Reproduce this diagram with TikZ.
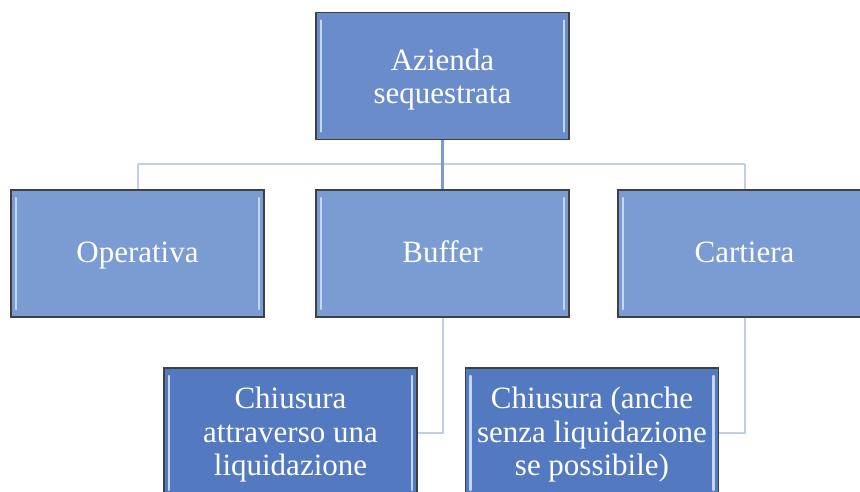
\documentclass[tikz,border=0pt]{standalone}
\usepackage{fontspec}
\setmainfont{LiberationSerif}[Extension=.ttf, UprightFont=*-Regular, BoldFont=*-Bold]
\definecolor{boxtop}{HTML}{6A8CCB}
\definecolor{boxmid}{HTML}{7A9CD3}
\definecolor{boxlow}{HTML}{5379C1}
\definecolor{linklight}{HTML}{C0CEEA}
\definecolor{bevel}{HTML}{C4D8F4}
% text block, first baseline raised by #1 above the box centre
\newcommand{\boxlines}[2]{\raisebox{#1}[0pt][0pt]{\begin{tabular}[t]{@{}c@{}}#2\end{tabular}}}
\tikzstyle{unit}=[draw=black!75, line width=1.2pt, text=white, minimum width=253pt, minimum height=127pt, inner sep=0pt, font=\fontsize{31}{33.5}\selectfont,
  path picture={
    \draw[bevel, line width=2.5pt, line cap=round] ([xshift=5pt,yshift=-8pt]path picture bounding box.north west) -- ([xshift=5pt,yshift=8pt]path picture bounding box.south west);
    \draw[bevel, line width=2.5pt, line cap=round] ([xshift=-5pt,yshift=-8pt]path picture bounding box.north east) -- ([xshift=-5pt,yshift=8pt]path picture bounding box.south east);
  }]
\tikzstyle{link}=[draw=linklight, line width=2pt]

\begin{document}
\begin{tikzpicture}[x=1pt, y=-1pt]
      \useasboundingbox (0,0) rectangle (860,491);
      \coordinate (bar_left) at (137.5, 164);
      \coordinate (bar_right) at (744.5, 164);
      \node[unit, fill=boxtop] (azienda) at (442.5, 76) {\boxlines{6pt}{Azienda\\sequestrata}};
      \node[unit, fill=boxmid] (operativa) at (137.5, 253.5) {\boxlines{-9.2pt}{Operativa}};
      \node[unit, fill=boxmid] (buffer) at (442.5, 253.5) {\boxlines{-9.2pt}{Buffer}};
      \node[unit, fill=boxmid] (cartiera) at (744.5, 253.5) {\boxlines{-9.2pt}{Cartiera}};
      \node[unit, fill=boxlow, minimum height=130pt] (chiusura_liq) at (290.5, 433) {\boxlines{24.5pt}{Chiusura\\attraverso una\\liquidazione}};
      \node[unit, fill=boxlow, minimum height=130pt] (chiusura_senza) at (592, 433) {\boxlines{24.5pt}{Chiusura (anche\\senza liquidazione\\se possibile)}};
      % connectors
      \draw[link] (bar_left) -- (bar_right);
      \draw[link] (bar_left) -- (operativa.north);
      \draw[link] (bar_right) -- (cartiera.north);
      \draw[draw=boxmid, line width=3pt] (azienda.south) -- (buffer.north);
      \draw[link] (buffer.south) |- (chiusura_liq.east);
      \draw[link] (cartiera.south) |- (chiusura_senza.east);
    \end{tikzpicture}
\end{document}
